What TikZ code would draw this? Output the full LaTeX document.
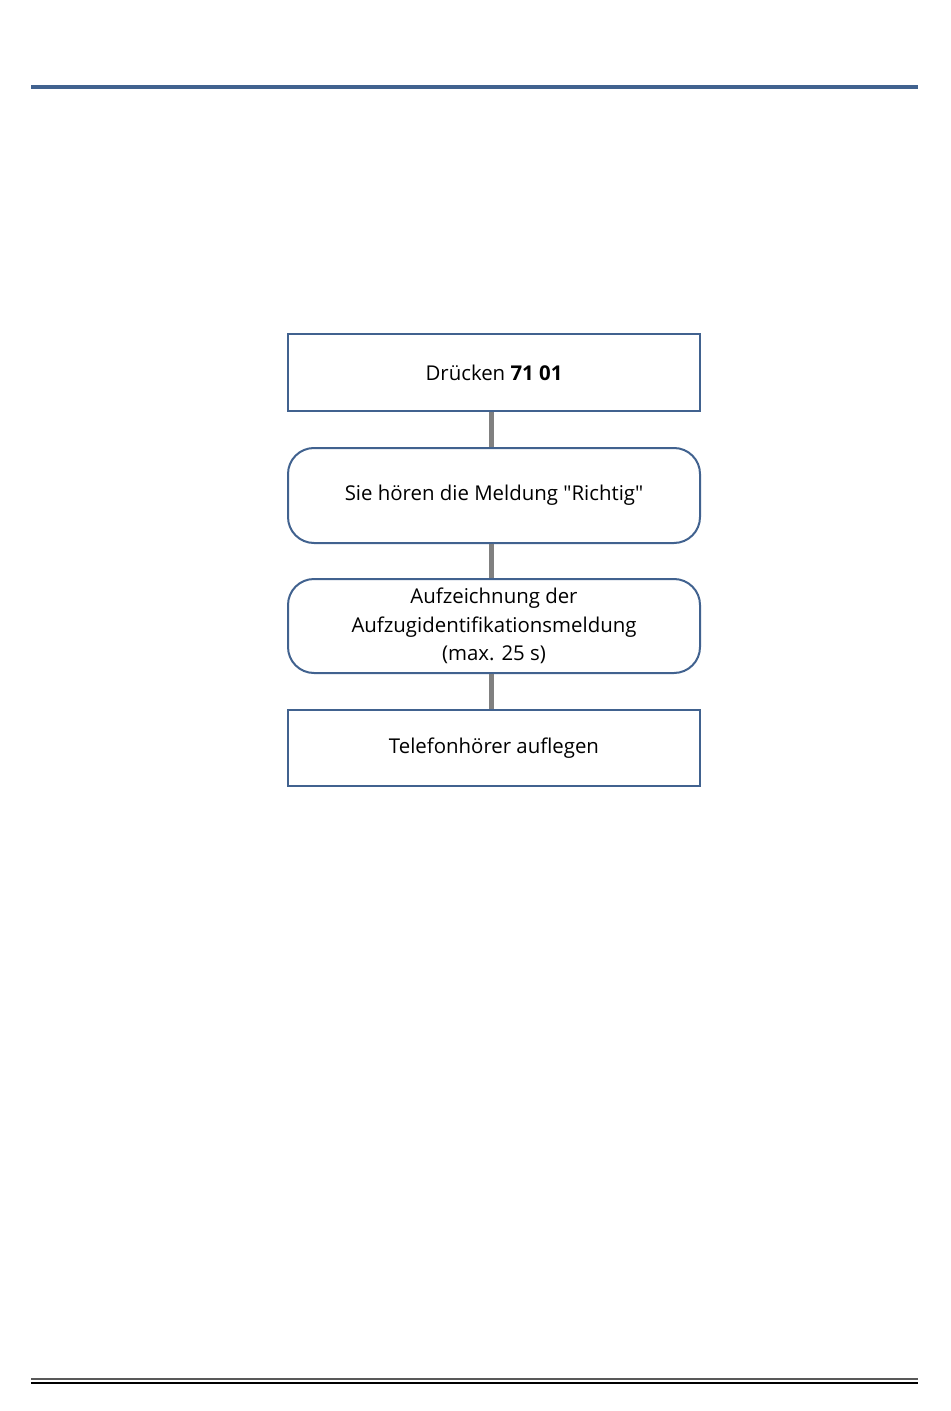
\documentclass[tikz,border=0pt]{standalone}
\usepackage{fontspec}
\setmainfont{Open Sans}
\newfontfamily\plainquote[Ligatures=TeXOff]{Open Sans}
\usepackage{tikz}
\usetikzlibrary{arrows}
\definecolor{boxblue}{HTML}{41628F}
\definecolor{rulegray}{HTML}{595959}
\newcommand{\sq}{{\plainquote"}}

\begin{document}
\begin{tikzpicture}[x=0.5pt, y=-0.5pt,
   stepbox/.style={draw=boxblue, line width=1pt, minimum width=206pt, align=center, font=\fontsize{10.2}{14.2}\selectfont},
   roundbox/.style={stepbox, rounded corners=13pt},
   link/.style={draw=gray, line width=2.5pt}]
   \useasboundingbox (0,0) rectangle (950,1411);
   \draw [boxblue, line width=2pt] (31,87) -- (918,87);
   \draw [rulegray, line width=1.3pt] (31,1379) -- (918,1379);
   \draw [black, line width=0.8pt] (31,1383) -- (918,1383);
   \node [stepbox, minimum height=38.5pt] (Dial) at (494,372.5) {Drücken \textbf{71 01}};
   \node [roundbox, minimum height=47.5pt] (Hear) at (494,495.5) {Sie hören die Meldung \sq Richtig\sq};
   \node [roundbox, minimum height=47pt] (Rec) at (494,626) {Aufzeichnung der\\Aufzugidentifikationsmeldung\\(max. 25 s)};
   \node [stepbox, minimum height=38pt] (Hang) at (494,748) {Telefonhörer auflegen};
   \draw [link] ([xshift=-1.5pt]Dial.south) -- ([xshift=-1.5pt]Hear.north);
   \draw [link] ([xshift=-1.5pt]Hear.south) -- ([xshift=-1.5pt]Rec.north);
   \draw [link] ([xshift=-1.5pt]Rec.south) -- ([xshift=-1.5pt]Hang.north);
\end{tikzpicture}
\end{document}
